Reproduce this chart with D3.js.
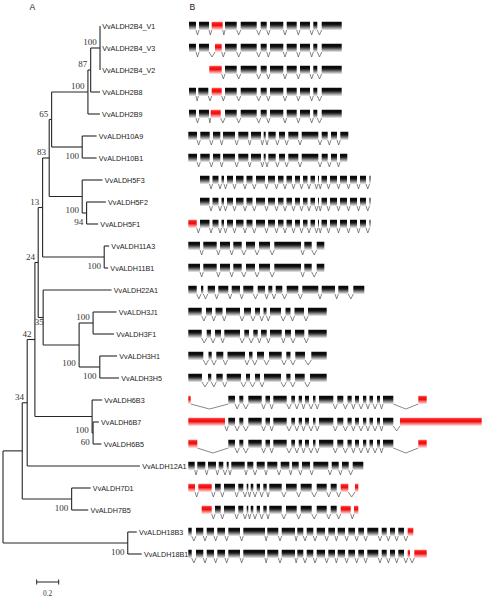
<!DOCTYPE html>
<html><head><meta charset="utf-8">
<script src="https://cdn.jsdelivr.net/npm/d3@7"></script>
<style>body{margin:0;background:#fff}svg{display:block}</style>
</head><body><svg id="c" width="484" height="598"></svg>
<script>
// ---------- DATA ----------
const leafNames = ["VvALDH2B4_V1","VvALDH2B4_V3","VvALDH2B4_V2","VvALDH2B8","VvALDH2B9",
  "VvALDH10A9","VvALDH10B1","VvALDH5F3","VvALDH5F2","VvALDH5F1","VvALDH11A3","VvALDH11B1",
  "VvALDH22A1","VvALDH3J1","VvALDH3F1","VvALDH3H1","VvALDH3H5","VvALDH6B3","VvALDH6B7",
  "VvALDH6B5","VvALDH12A1","VvALDH7D1","VvALDH7B5","VvALDH18B3","VvALDH18B1"];

// [node, parent, branch length]
const treeEdges = [
  ["root",null,0],
  ["N1","root",0.175],
  ["N34","N1",0.045],
  ["N42","N34",0.07],
  ["N24","N42",0.03],
  ["N13","N24",0.04],
  ["N83","N13",0.06],
  ["N65","N83",0.022],
  ["N2B","N65",0.33],
  ["N87","N2B",0.025],
  ["NV","N87",0.085],
  ["VvALDH2B4_V1","NV",0],
  ["VvALDH2B4_V3","NV",0],
  ["VvALDH2B4_V2","NV",0],
  ["VvALDH2B8","N87",0.085],
  ["VvALDH2B9","N2B",0.109],
  ["N10","N65",0.278],
  ["VvALDH10A9","N10",0.131],
  ["VvALDH10B1","N10",0.131],
  ["N5F","N83",0.30],
  ["VvALDH5F3","N5F",0.185],
  ["N94","N5F",0.04],
  ["VvALDH5F2","N94",0.175],
  ["VvALDH5F1","N94",0.105],
  ["N11","N13",0.56],
  ["VvALDH11A3","N11",0.045],
  ["VvALDH11B1","N11",0.036],
  ["N35","N24",0.045],
  ["VvALDH22A1","N35",0.622],
  ["N3","N35",0.327],
  ["N3J","N3",0.127],
  ["VvALDH3J1","N3J",0.213],
  ["VvALDH3F1","N3J",0.19],
  ["N3H","N3",0.188],
  ["VvALDH3H1","N3H",0.157],
  ["VvALDH3H5","N3H",0.175],
  ["N6","N42",0.52],
  ["VvALDH6B3","N6",0.091],
  ["N60","N6",0.009],
  ["VvALDH6B7","N60",0.052],
  ["VvALDH6B5","N60",0.076],
  ["VvALDH12A1","N34",1.025],
  ["N7","N1",0.449],
  ["VvALDH7D1","N7",0.173],
  ["VvALDH7B5","N7",0.151],
  ["N18","root",1.134],
  ["VvALDH18B3","N18",0.082],
  ["VvALDH18B1","N18",0.127]
];

// [node, bootstrap, label side]
const bootstrapValues = [
  ["NV",100,"a"],["N87",87,"a"],["N2B",100,"a"],["N65",65,"a"],["N10",100,"b"],
  ["N83",83,"a"],["N5F",100,"b"],["N94",94,"b"],["N13",13,"a"],["N11",100,"b"],
  ["N24",24,"a"],["N35",35,"m"],["N3J",100,"a"],["N3",100,"b"],["N3H",100,"b"],
  ["N42",42,"a"],["N6",100,"b"],["N60",60,"b"],["N34",34,"a"],["N7",100,"b"],["N18",100,"b"]
];
const scaleBarValue = 0.2;

// gene structures: exon [start, end, utr(1)] in relative length units
const ald2Tail = [[3.7,4.87],[5.27,6.87],[7.27,7.87],[8.2,9.53],[9.87,10.87],[11.2,12.2],[12.53,12.93],[13.37,15.37]];
const ald10 = [[0.03,0.9],[1.23,2.17],[2.5,3.23],[3.5,4.7],[5.03,6.03],[6.3,7.3],[7.57,7.77],[8.03,8.77],[9.1,9.7],[10.03,11.03],[11.37,13.03],[13.37,13.97],[14.3,14.9]];
const ald5F = [[1.2,2.15],[2.45,3.05],[3.35,3.6],[3.9,4.5],[4.8,5.55],[5.85,6.45],[6.8,7.7],[8,8.7],[9,9.55],[9.85,10.4],[10.7,11.2],[11.5,11.95],[12.25,12.7],[13,13.1],[13.35,13.9],[14.2,14.9],[15.2,15.9],[16.2,16.9],[17.2,17.8],[18.15,18.25]];
const ald11 = [[0.03,1.2],[1.53,2.87],[3.2,4.2],[4.53,5.37],[5.8,6.7],[7.1,8.2],[8.63,11.3],[11.63,12.37],[12.87,13.63]];
const ald6Core = [[4.03,4.7],[5.13,5.53],[6.03,7.37],[7.75,8.2],[8.53,9.87],[10.33,10.7],[11.07,11.4],[11.7,12.1],[12.5,12.75],[13.1,14.53],[14.93,15.53],[15.95,16.37],[16.7,17.1],[17.5,17.83],[18.15,18.5],[18.9,19.2],[19.5,20.53]];
const ald7Core = [[2.7,3.27],[3.6,4.7],[5.03,5.53],[5.87,6.03],[6.27,6.53],[6.87,7.2],[7.53,7.87],[8.13,9.37],[9.8,10.87],[11.27,12.37],[12.87,13.87],[14.27,14.87]];
const ald18Core = [[0.03,0.37],[0.8,1.53],[1.87,2.6],[2.93,3.7],[4.03,5.2],[5.53,7.7],[7.93,9.03],[9.37,10.7],[10.93,11.53],[11.87,12.53],[12.87,13.7],[14.03,14.7],[14.97,15.7],[16.03,16.7],[17.03,17.6],[17.93,19.03],[19.37,19.87],[20.2,20.7],[21.03,21.6]];

const geneExons = [
  [[0.1,0.8],[1.1,2.1],[2.37,3.47,1], ...ald2Tail],
  [[0.1,0.8],[1.1,2.1],[2.7,3.37,1], ...ald2Tail],
  [[2.13,3.37,1], ...ald2Tail],
  [[0.1,0.8],[1.03,2.03],[2.37,3.37,1], ...ald2Tail],
  [[0.1,0.8],[1.1,2.1],[2.27,3.27,1], ...ald2Tail],
  [...ald10,[15.23,16.03]],
  [...ald10,[15.2,15.93]],
  [...ald5F],
  [...ald5F],
  [[0.03,0.87,1], ...ald5F],
  [...ald11],
  [...ald11],
  [[0.03,0.87],[1.3,1.53],[1.97,2.7],[3.03,4.03],[4.37,5.2],[5.53,6.53],[6.97,7.7],[8.03,8.43],[8.77,9.43],[9.87,11.03],[11.43,13.03],[13.37,14.7],[15.03,16.03],[16.53,17.63]],
  [[0.03,1.37],[1.8,2.4],[2.75,3.45],[3.8,5.2],[5.6,6.3],[6.7,7.2],[7.55,7.85],[8.2,9.3],[9.75,10.25],[10.65,11.6],[12,13.87]],
  [[0.03,1.37],[1.87,2.3],[2.7,3.3],[3.63,5.2],[5.63,6.1],[6.53,6.97],[7.3,7.87],[8.2,9.37],[9.7,10.3],[10.7,11.63],[12.03,13.87]],
  [[0.03,1.53],[2.05,2.37],[2.83,3.53],[3.95,5.7],[6.1,6.45],[6.9,7.6],[8.1,9.37],[9.83,10.25],[10.73,11.7],[12.33,13.87]],
  [[0.03,1.4],[2,2.33],[2.83,3.47],[3.87,5.3],[5.8,6.2],[6.7,7.2],[7.6,9.3],[9.83,10.25],[10.7,11.67],[12.2,13.87]],
  [[0.03,0.27,1], ...ald6Core, [23.03,23.87,1]],
  [[0.03,3.7,1], ...ald6Core, [21.2,29.37,1]],
  [[0.03,0.93,1], ...ald6Core, [23.03,23.87,1]],
  [[0.03,0.67],[0.93,1.73],[2,2.8],[3.07,3.53],[3.87,4.07],[4.33,5.67],[5.93,6.53],[6.87,7.67],[7.93,8.93],[9.27,10.13],[10.4,11.07],[11.4,12.2],[12.53,14.03],[14.37,15.07],[15.4,16.07],[16.47,17.53]],
  [[0.03,0.7,1],[1.03,2.37,1], ...ald7Core, [15.27,16.03,1],[16.7,17.03,1]],
  [[1.37,2.37,1], ...ald7Core, [15.27,16.27,1],[16.6,17.03,1]],
  [...ald18Core, [21.97,22.53,1]],
  [...ald18Core, [21.97,22.2,1],[22.63,23.87,1]]
];

// ---------- DRAWING ----------
const svg = d3.select("#c");
const defs = svg.append("defs");
function grad(id, stops){
  const g = defs.append("linearGradient").attr("id",id).attr("x1",0).attr("y1",0).attr("x2",0).attr("y2",1);
  g.selectAll("stop").data(stops).join("stop").attr("offset",d=>d[0]).attr("stop-color",d=>d[1]);
}
grad("gExon", [[0,"#333"],[0.12,"#000"],[0.4,"#1a1a1a"],[0.75,"#999"],[1,"#ececec"]]);
grad("gUtr",  [[0,"#ff8a8a"],[0.15,"#ff1a1a"],[0.45,"#e81010"],[0.8,"#ff9a9a"],[1,"#ffe8e8"]]);

const sans = "'Liberation Sans', Arial, Helvetica, sans-serif";
const serif = "'Liberation Serif', 'Times New Roman', Times, serif";

// Panel letters
svg.append("text").attr("x",29.5).attr("y",9.8).text("A")
  .attr("font-family",sans).attr("font-size",8.6).attr("fill","#222");
svg.append("text").attr("x",189.5).attr("y",9.8).text("B")
  .attr("font-family",sans).attr("font-size",8.6).attr("fill","#222");

// Tree
const root = d3.stratify().id(d=>d[0]).parentId(d=>d[1])(treeEdges);
root.eachBefore(n=>{ n.len = n.parent ? n.parent.len + n.data[2] : 0; });
const xTree = d3.scaleLinear().domain([0,1]).range([3,113]);
const yRow = d3.scalePoint().domain(leafNames).range([26,554]);
root.eachAfter(n=>{
  n.py = n.children ? (n.children[0].py + n.children[n.children.length-1].py)/2 : yRow(n.id);
});

const gTree = svg.append("g").attr("stroke","#262626").attr("stroke-width",1.1).attr("fill","none");
gTree.selectAll("line.h").data(root.descendants().filter(n=>n.parent)).join("line").attr("class","h")
  .attr("x1",n=>xTree(n.parent.len)).attr("x2",n=>xTree(n.len))
  .attr("y1",n=>n.py).attr("y2",n=>n.py);
gTree.selectAll("line.v").data(root.descendants().filter(n=>n.children)).join("line").attr("class","v")
  .attr("x1",n=>xTree(n.len)).attr("x2",n=>xTree(n.len))
  .attr("y1",n=>n.children[0].py).attr("y2",n=>n.children[n.children.length-1].py);

svg.append("g").selectAll("text").data(root.leaves()).join("text")
  .attr("x",n=>xTree(n.len)+2.2).attr("y",n=>n.py).attr("dy","0.36em")
  .attr("font-family",sans).attr("font-size",7.2).attr("fill","#222")
  .text(n=>n.id);

const nodeById = new Map(root.descendants().map(n=>[n.id,n]));
svg.append("g").selectAll("text").data(bootstrapValues).join("text")
  .attr("font-family",serif).attr("font-size",9).attr("fill","#333")
  .attr("text-anchor","end")
  .attr("x",d=>{ const n=nodeById.get(d[0]); return d[2]==="m" ? xTree(n.len)+0.5 : xTree(n.len)-3.3; })
  .attr("y",d=>{
    const n=nodeById.get(d[0]);
    const half = n.children[n.children.length-1].py - n.py;
    if(d[2]==="a") return n.py - 2.8;
    if(d[2]==="m") return n.py + 7.2;
    return n.py + 0.8*half + 3.2;
  })
  .text(d=>d[1]);

// Scale bar
const sbX0 = 36.7, sbY = 582;
const sbW = xTree(scaleBarValue) - xTree(0);
const gSb = svg.append("g").attr("stroke","#222").attr("stroke-width",1);
gSb.append("line").attr("x1",sbX0).attr("x2",sbX0+sbW).attr("y1",sbY).attr("y2",sbY);
gSb.append("line").attr("x1",sbX0).attr("x2",sbX0).attr("y1",sbY-2.5).attr("y2",sbY+2.5);
gSb.append("line").attr("x1",sbX0+sbW).attr("x2",sbX0+sbW).attr("y1",sbY-2.5).attr("y2",sbY+2.5);
svg.append("text").attr("x",sbX0+sbW/2).attr("y",595.5).attr("text-anchor","middle")
  .attr("font-family",serif).attr("font-size",7.4).attr("fill","#333").text(scaleBarValue);

// Gene structures
const xGene = d3.scaleLinear().domain([0,30]).range([188,488]);
const exonTop = -4.3, exonH = 8.3, vDepth = 5;
const gGenes = svg.append("g");
const rows = gGenes.selectAll("g.row").data(leafNames.map((name,i)=>({name, exons:geneExons[i]})))
  .join("g").attr("class","row").attr("transform",d=>`translate(0,${yRow(d.name)})`);

rows.each(function(d){
  const g = d3.select(this);
  const introns = d.exons.slice(1).map((e,k)=>[d.exons[k][1], e[0]]);
  g.selectAll("path.intron").data(introns).join("path").attr("class","intron")
    .attr("d",iv=>{
      const a=xGene(iv[0]), b=xGene(iv[1]), yb=exonTop+exonH;
      return `M${a},${yb}L${(a+b)/2},${yb+vDepth}L${b},${yb}`;
    })
    .attr("fill","none").attr("stroke","#555").attr("stroke-width",0.7);
  g.selectAll("rect.exon").data(d.exons).join("rect").attr("class","exon")
    .attr("x",e=>xGene(e[0])).attr("width",e=>Math.max(0.8,xGene(e[1])-xGene(e[0])))
    .attr("y",exonTop).attr("height",exonH)
    .attr("fill",e=>e[2] ? "url(#gUtr)" : "url(#gExon)");
});
</script>
</body></html>
